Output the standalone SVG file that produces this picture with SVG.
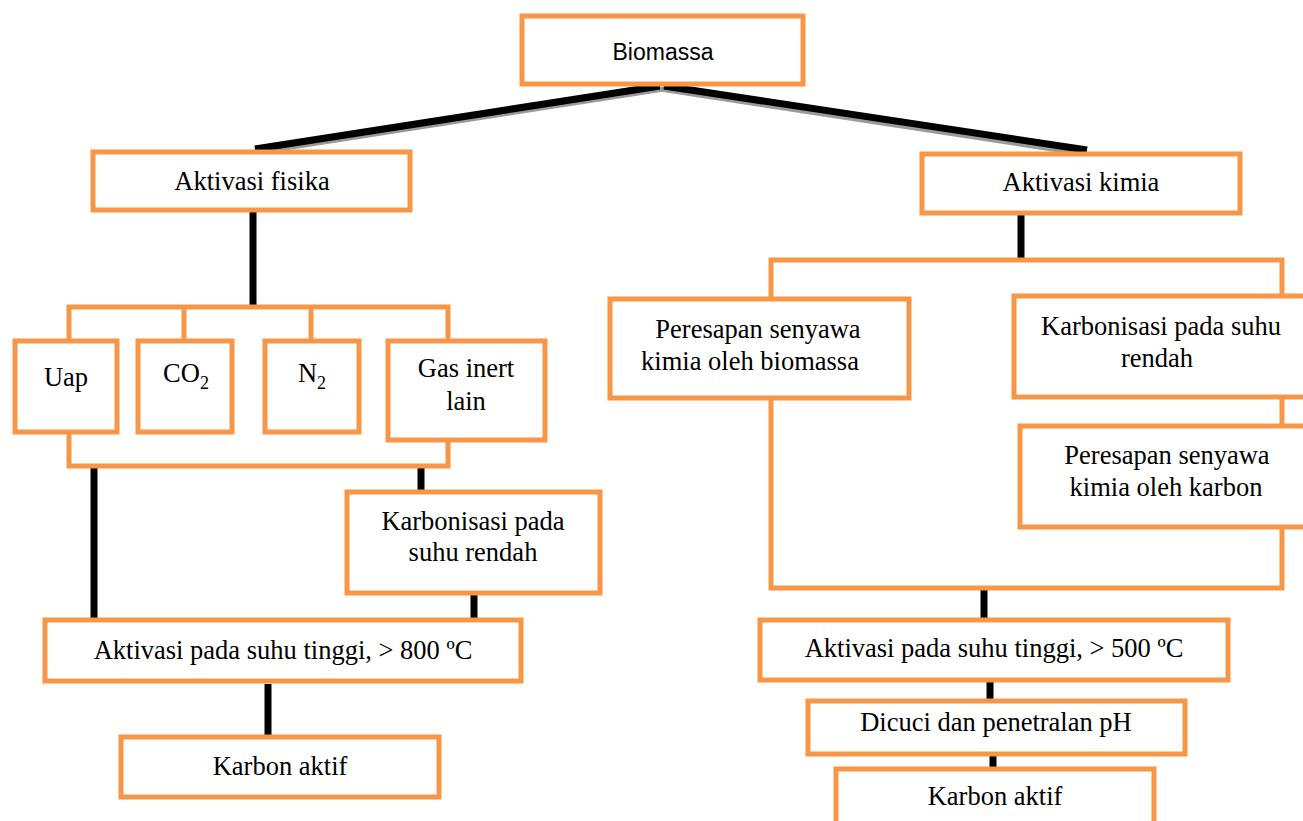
<svg xmlns="http://www.w3.org/2000/svg" width="1303" height="821" viewBox="0 0 1303 821">
<style>
.box{fill:#fff;stroke:#F79646;stroke-width:5}
.br{fill:none;stroke:#F79646;stroke-width:5}
.t{font-family:"Liberation Serif","Times New Roman",serif;font-size:26.5px;fill:#000;text-anchor:middle}
.s{font-family:"Liberation Sans",Arial,sans-serif;font-size:23px;fill:#000;text-anchor:middle}
.k{stroke:#000;stroke-width:7;fill:none}
.g{stroke:#9a9a9a;stroke-width:5;fill:none}
</style>
<rect width="1303" height="821" fill="#fff"/>
<g id="connectors">
<line class="g" x1="664" y1="89" x2="266" y2="151"/>
<line class="k" x1="660" y1="86" x2="255" y2="149"/>
<line class="g" x1="660" y1="89" x2="1078" y2="153"/>
<line class="k" x1="664" y1="86" x2="1087" y2="150"/>
<line class="k" x1="253" y1="212" x2="253" y2="306"/>
<line class="k" x1="94" y1="468" x2="94" y2="620"/>
<line class="k" x1="421" y1="468" x2="421" y2="492"/>
<line class="k" x1="474" y1="595" x2="474" y2="620"/>
<line class="k" x1="268" y1="684" x2="268" y2="737"/>
<line class="k" x1="1021" y1="215" x2="1021" y2="258"/>
<line class="k" x1="984" y1="590" x2="984" y2="619"/>
<line class="k" x1="990" y1="681" x2="990" y2="701"/>
<line class="k" x1="993" y1="755" x2="993" y2="770"/>
<polyline class="br" points="69,340 69,307 448,307 448,340"/>
<line class="br" x1="184" y1="307" x2="184" y2="340"/>
<line class="br" x1="311" y1="307" x2="311" y2="340"/>
<polyline class="br" points="69,432 69,466 448,466 448,440"/>
<polyline class="br" points="771,298 771,260 1282,260 1282,296"/>
<line class="br" x1="1282" y1="397" x2="1282" y2="426"/>
<polyline class="br" points="771,398 771,588 1282,588 1282,527"/>
</g>
<g id="biomassa"><rect class="box" x="522" y="16" width="281" height="68"/><text class="s" x="663" y="60">Biomassa</text></g>
<g id="aktivasi-fisika"><rect class="box" x="93" y="152" width="317" height="58"/><text class="t" x="252" y="190">Aktivasi fisika</text></g>
<g id="aktivasi-kimia"><rect class="box" x="922" y="154" width="318" height="59"/><text class="t" x="1081" y="191">Aktivasi kimia</text></g>
<g id="uap"><rect class="box" x="15" y="341" width="102" height="91"/><text class="t" x="66" y="386">Uap</text></g>
<g id="co2"><rect class="box" x="138" y="341" width="94" height="91"/><text class="t" x="186" y="382">CO<tspan font-size="18" dy="7">2</tspan></text></g>
<g id="n2"><rect class="box" x="265" y="341" width="94" height="91"/><text class="t" x="312" y="382">N<tspan font-size="18" dy="7">2</tspan></text></g>
<g id="gas-inert"><rect class="box" x="388" y="341" width="157" height="99"/><text class="t" x="466" y="377">Gas inert</text><text class="t" x="466" y="410">lain</text></g>
<g id="karbonisasi-kiri"><rect class="box" x="347" y="492" width="253" height="101"/><text class="t" x="473" y="530">Karbonisasi pada</text><text class="t" x="473" y="561">suhu rendah</text></g>
<g id="aktivasi-800"><rect class="box" x="45" y="620" width="476" height="61"/><text class="t" x="283" y="659">Aktivasi pada suhu tinggi, &gt; 800 ºC</text></g>
<g id="karbon-aktif-kiri"><rect class="box" x="121" y="737" width="318" height="60"/><text class="t" x="280" y="775">Karbon aktif</text></g>
<g id="peresapan-biomassa"><rect class="box" x="610" y="299" width="299" height="99"/><text class="t" x="758" y="338">Peresapan senyawa</text><text class="t" x="750" y="370">kimia oleh biomassa</text></g>
<g id="karbonisasi-kanan"><rect class="box" x="1014" y="296" width="300" height="101"/><text class="t" x="1161" y="335">Karbonisasi pada suhu</text><text class="t" x="1157" y="367">rendah</text></g>
<g id="peresapan-karbon"><rect class="box" x="1020" y="426" width="294" height="101"/><text class="t" x="1167" y="464">Peresapan senyawa</text><text class="t" x="1166" y="496">kimia oleh karbon</text></g>
<g id="aktivasi-500"><rect class="box" x="760" y="620" width="468" height="60"/><text class="t" x="994" y="657">Aktivasi pada suhu tinggi, &gt; 500 ºC</text></g>
<g id="dicuci"><rect class="box" x="808" y="701" width="377" height="53"/><text class="t" x="996" y="731">Dicuci dan penetralan pH</text></g>
<g id="karbon-aktif-kanan"><rect class="box" x="836" y="769" width="318" height="62"/><text class="t" x="995" y="805">Karbon aktif</text></g>
</svg>
